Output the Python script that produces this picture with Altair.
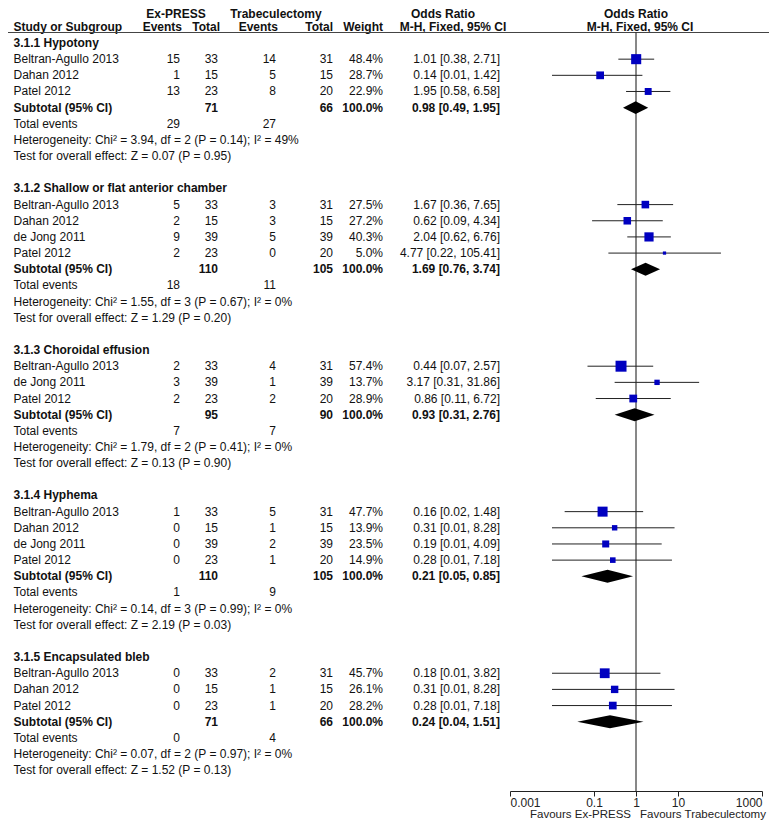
import altair as alt
import pandas as pd

FONT = "Liberation Sans"
FS = 12

# ---------------- data ----------------
subgroup_titles = [
    "3.1.1 Hypotony",
    "3.1.2 Shallow or flat anterior chamber",
    "3.1.3 Choroidal effusion",
    "3.1.4 Hyphema",
    "3.1.5 Encapsulated bleb",
]
study_group = [0, 0, 0, 1, 1, 1, 1, 2, 2, 2, 3, 3, 3, 3, 4, 4, 4]
study_names = [
    "Beltran-Agullo 2013", "Dahan 2012", "Patel 2012",
    "Beltran-Agullo 2013", "Dahan 2012", "de Jong 2011", "Patel 2012",
    "Beltran-Agullo 2013", "de Jong 2011", "Patel 2012",
    "Beltran-Agullo 2013", "Dahan 2012", "de Jong 2011", "Patel 2012",
    "Beltran-Agullo 2013", "Dahan 2012", "Patel 2012",
]
exp_events = [15, 1, 13, 5, 2, 9, 2, 2, 3, 2, 1, 0, 0, 0, 0, 0, 0]
exp_total = [33, 15, 23, 33, 15, 39, 23, 33, 39, 23, 33, 15, 39, 23, 33, 15, 23]
ctl_events = [14, 5, 8, 3, 3, 5, 0, 4, 1, 2, 5, 1, 2, 1, 2, 1, 1]
ctl_total = [31, 15, 20, 31, 15, 39, 20, 31, 39, 20, 31, 15, 39, 20, 31, 15, 20]
weights = [48.4, 28.7, 22.9, 27.5, 27.2, 40.3, 5.0, 57.4, 13.7, 28.9,
           47.7, 13.9, 23.5, 14.9, 45.7, 26.1, 28.2]
or_est = [1.01, 0.14, 1.95, 1.67, 0.62, 2.04, 4.77, 0.44, 3.17, 0.86,
          0.16, 0.31, 0.19, 0.28, 0.18, 0.31, 0.28]
or_lo = [0.38, 0.01, 0.58, 0.36, 0.09, 0.62, 0.22, 0.07, 0.31, 0.11,
         0.02, 0.01, 0.01, 0.01, 0.01, 0.01, 0.01]
or_hi = [2.71, 1.42, 6.58, 7.65, 4.34, 6.76, 105.41, 2.57, 31.86, 6.72,
         1.48, 8.28, 4.09, 7.18, 3.82, 8.28, 7.18]

sub_exp_total = [71, 110, 95, 110, 71]
sub_ctl_total = [66, 105, 90, 105, 66]
sub_exp_events = [29, 18, 7, 1, 0]
sub_ctl_events = [27, 11, 7, 9, 4]
sub_or = [0.98, 1.69, 0.93, 0.21, 0.24]
sub_lo = [0.49, 0.76, 0.31, 0.05, 0.04]
sub_hi = [1.95, 3.74, 2.76, 0.85, 1.51]
heterogeneity = [
    "Chi² = 3.94, df = 2 (P = 0.14); I² = 49%",
    "Chi² = 1.55, df = 3 (P = 0.67); I² = 0%",
    "Chi² = 1.79, df = 2 (P = 0.41); I² = 0%",
    "Chi² = 0.14, df = 3 (P = 0.99); I² = 0%",
    "Chi² = 0.07, df = 2 (P = 0.97); I² = 0%",
]
overall_effect = [
    "Z = 0.07 (P = 0.95)",
    "Z = 1.29 (P = 0.20)",
    "Z = 0.13 (P = 0.90)",
    "Z = 2.19 (P = 0.03)",
    "Z = 1.52 (P = 0.13)",
]
header_top = ["Ex-PRESS", "Trabeculectomy", "Odds Ratio", "Odds Ratio"]
header_bottom = ["Study or Subgroup", "Events", "Total", "Events", "Total",
                 "Weight", "M-H, Fixed, 95% CI", "M-H, Fixed, 95% CI"]
axis_ticks = [0.001, 0.1, 1, 10, 1000]
favours = ["Favours Ex-PRESS", "Favours Trabeculectomy"]

# ---------------- build tables ----------------
cells, studies, diamonds = [], [], []
r = 0
for g, title in enumerate(subgroup_titles):
    cells.append(dict(row=r, col="name", text=title, bold=True))
    r += 1
    for i, sg in enumerate(study_group):
        if sg != g:
            continue
        cells += [
            dict(row=r, col="name", text=study_names[i], bold=False),
            dict(row=r, col="ee", text=str(exp_events[i]), bold=False),
            dict(row=r, col="et", text=str(exp_total[i]), bold=False),
            dict(row=r, col="ce", text=str(ctl_events[i]), bold=False),
            dict(row=r, col="ct", text=str(ctl_total[i]), bold=False),
            dict(row=r, col="w", text=f"{weights[i]:.1f}%", bold=False),
            dict(row=r, col="or", text=f"{or_est[i]:.2f} [{or_lo[i]:.2f}, {or_hi[i]:.2f}]", bold=False),
        ]
        studies.append(dict(row=r, est=or_est[i], lo=or_lo[i], hi=or_hi[i], weight=weights[i]))
        r += 1
    cells += [
        dict(row=r, col="name", text="Subtotal (95% CI)", bold=True),
        dict(row=r, col="et", text=str(sub_exp_total[g]), bold=True),
        dict(row=r, col="ct", text=str(sub_ctl_total[g]), bold=True),
        dict(row=r, col="w", text="100.0%", bold=True),
        dict(row=r, col="or", text=f"{sub_or[g]:.2f} [{sub_lo[g]:.2f}, {sub_hi[g]:.2f}]", bold=True),
    ]
    diamonds += [
        dict(group=g, x=sub_lo[g], top=r, bot=r),
        dict(group=g, x=sub_or[g], top=r - 0.4, bot=r + 0.4),
        dict(group=g, x=sub_hi[g], top=r, bot=r),
    ]
    r += 1
    cells += [
        dict(row=r, col="name", text="Total events", bold=False),
        dict(row=r, col="ee", text=str(sub_exp_events[g]), bold=False),
        dict(row=r, col="ce", text=str(sub_ctl_events[g]), bold=False),
    ]
    r += 1
    cells.append(dict(row=r, col="name", text="Heterogeneity: " + heterogeneity[g], bold=False))
    r += 1
    cells.append(dict(row=r, col="name", text="Test for overall effect: " + overall_effect[g], bold=False))
    r += 2

cells = pd.DataFrame(cells)
studies = pd.DataFrame(studies)
diamonds = pd.DataFrame(diamonds)

# ---------------- layout ----------------
W = 761
H = 783           # plot area ends at the odds-ratio axis
PAD_B = 30
ROW0, ROWH = 35.0, 16.16
yscale = alt.Scale(domain=[-ROW0 / ROWH, (H - ROW0) / ROWH], reverse=True, zero=False, nice=False)
xscale = alt.Scale(type="log", domain=[0.001, 1000], range=[502, 754], nice=False)

col_specs = {
    "name": (5.5, "left"),
    "ee": (172, "right"),
    "et": (210, "right"),
    "ce": (268, "right"),
    "ct": (325, "right"),
    "w": (375, "right"),
    "or": (492, "right"),
}

layers = []
for col, (xpos, align) in col_specs.items():
    for bold in (False, True):
        sub = cells[(cells.col == col) & (cells.bold == bold)]
        if sub.empty:
            continue
        layers.append(
            alt.Chart(sub).mark_text(
                align=align, baseline="middle", font=FONT, fontSize=FS,
                fontWeight="bold" if bold else "normal", color="#111"
            ).encode(
                x=alt.value(xpos),
                y=alt.Y("row:Q", scale=yscale, axis=None),
                text="text:N",
            )
        )

# headers
top_pos = [(168, "center"), (268, "center"), (435, "center"), (628, "center")]
bot_pos = [(5.5, "left"), (174, "right"), (212, "right"), (270, "right"), (325, "right"),
           (375, "right"), (445, "center"), (632, "center")]
for txt, (xpos, align) in zip(header_top, top_pos):
    layers.append(alt.Chart(pd.DataFrame({"t": [txt]})).mark_text(
        align=align, baseline="middle", font=FONT, fontSize=FS, fontWeight="bold", color="#111"
    ).encode(x=alt.value(xpos), y=alt.value(5.5), text="t:N"))
for txt, (xpos, align) in zip(header_bottom, bot_pos):
    layers.append(alt.Chart(pd.DataFrame({"t": [txt]})).mark_text(
        align=align, baseline="middle", font=FONT, fontSize=FS, fontWeight="bold", color="#111"
    ).encode(x=alt.value(xpos), y=alt.value(18.5), text="t:N"))

# header rule
layers.append(alt.Chart(pd.DataFrame({"a": [0]})).mark_rule(color="#444", strokeWidth=1.2).encode(
    x=alt.value(0), x2=alt.value(W), y=alt.value(24.5)))

# line of no effect with the odds-ratio axis
layers.append(alt.Chart(pd.DataFrame({"v": [1]})).mark_rule(color="#111", strokeWidth=1).encode(
    x=alt.X("v:Q", scale=xscale, axis=alt.Axis(
        values=axis_ticks, format="~g", orient="bottom", grid=False,
        title=None, domainColor="#222", tickColor="#222", tickSize=5, labelPadding=1,
        labelFont=FONT, labelFontSize=FS, labelColor="#222", labelFlush=True, labelOverlap=False)),
    y=alt.value(24.5), y2=alt.value(H)))

# CI lines
layers.append(alt.Chart(studies).mark_rule(color="#222", strokeWidth=1).encode(
    x=alt.X("lo:Q", scale=xscale), x2="hi:Q", y=alt.Y("row:Q", scale=yscale, axis=None)))
# squares
layers.append(alt.Chart(studies).mark_square(color="#0000C0", filled=True, opacity=1).encode(
    x=alt.X("est:Q", scale=xscale),
    y=alt.Y("row:Q", scale=yscale, axis=None),
    size=alt.Size("weight:Q", scale=alt.Scale(domain=[0, 100], range=[0, 210]), legend=None)))
# diamonds
layers.append(alt.Chart(diamonds).mark_area(color="black", opacity=1).encode(
    x=alt.X("x:Q", scale=xscale),
    y=alt.Y("top:Q", scale=yscale, axis=None),
    y2="bot:Q",
    detail="group:N"))

# favours labels (below the axis)
layers.append(alt.Chart(pd.DataFrame({"t": [favours[0]]})).mark_text(
    align="right", baseline="middle", font=FONT, fontSize=11.5, color="#222"
).encode(x=alt.value(623), y=alt.value(H + 24), text="t:N"))
layers.append(alt.Chart(pd.DataFrame({"t": [favours[1]]})).mark_text(
    align="left", baseline="middle", font=FONT, fontSize=11.5, color="#222"
).encode(x=alt.value(632), y=alt.value(H + 24), text="t:N"))

chart = alt.layer(*layers).properties(
    width=W, height=H,
    padding={"left": 0, "top": 0, "right": 0, "bottom": PAD_B},
    autosize=alt.AutoSizeParams(type="none"),
).configure_view(stroke=None)

chart.save("out.html", embed_options={"renderer": "svg", "actions": False})
